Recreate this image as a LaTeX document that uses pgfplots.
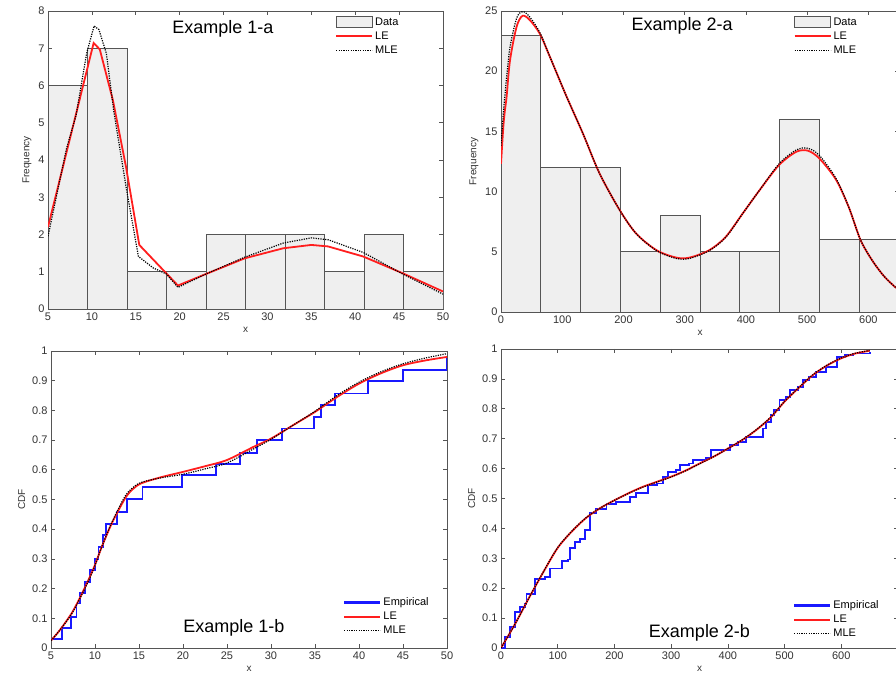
\documentclass[border=0pt]{standalone}
\usepackage{fontspec}
\setmainfont{Liberation Sans}
\usepackage{pgfplots}
\pgfplotsset{compat=1.18}

\definecolor{axgray}{RGB}{85,85,85}
\definecolor{barfill}{RGB}{239,239,239}
\definecolor{lered}{RGB}{255,30,30}
\definecolor{empblue}{RGB}{25,25,255}

\pgfplotsset{
  panel/.style={
    scale only axis,
    axis line style={axgray},
    every tick/.style={axgray, line width=0.6pt},
    major tick length=4pt,
    tick label style={font=\fontsize{11}{12}\selectfont, text=black!80},
    label style={font=\fontsize{10}{11}\selectfont, text=black!80},
    /pgf/number format/assume math mode=true,
    legend cell align=left,
    legend style={draw=none, fill=none, font=\fontsize{11}{12}\selectfont,
      inner sep=0pt, row sep=1pt},
  },
  lineleg/.style={legend image code/.code={\draw[##1] (0pt,0pt) -- (36pt,0pt);}},
  barleg/.style={legend image code/.code={\draw[##1] (0pt,-5.5pt) rectangle (36pt,5.5pt);}},
  leline/.style={lered, line width=1.8pt, lineleg},
  mleline/.style={black, line width=1.2pt, dash pattern=on 1.2pt off 1.2pt, lineleg},
  empline/.style={empblue, line width=1.9pt, const plot, forget plot},
}

\begin{document}
\begin{tikzpicture}
\useasboundingbox (0,0) rectangle (896pt,677pt);
\clip (0,0) rectangle (896pt,677pt);

% ---------- Example 1-a
\begin{axis}[panel, at={(48pt,368pt)}, anchor=south west,
  width=395pt, height=298pt,
  xmin=5, xmax=50, ymin=0, ymax=8,
  xtick={5,10,...,50}, ytick={0,1,...,8},
  xlabel={x}, ylabel={Frequency},
  legend style={at={(0.727,0.985)}, anchor=north west}]
\addplot[ybar interval, fill=barfill, draw=axgray, line width=0.9pt, barleg] coordinates {
  (5,6)(9.5,7)(14,1)(18.5,1)(23,2)(27.5,2)(32,2)(36.5,1)(41,2)(45.5,1)(50,1)};
\addplot[leline] coordinates {
  (5,2.2)(10.2,7.14)(10.9,6.97)(12.4,5.6)(13.9,3.8)(15.4,1.72)(19.8,0.63)
  (23,0.94)(27.4,1.36)(31.8,1.63)(35,1.72)(36.9,1.68)(40.9,1.41)(45.4,0.96)(50,0.47)};
\addplot[mleline] coordinates {
  (5,1.95)(7.1,4.3)(8.2,5.2)(9.4,6.86)(10.25,7.6)(10.8,7.5)(11.65,6.86)(12.5,5.3)
  (13.9,3.27)(15.3,1.41)(17,1.1)(18.5,0.94)(19.8,0.58)(23,0.94)(27.4,1.39)
  (31.8,1.77)(35,1.91)(36.9,1.86)(40.9,1.52)(45.4,0.94)(50,0.40)};
\legend{Data,LE,MLE}
\node[font=\fontsize{18}{20}\selectfont] at (rel axis cs:0.443,0.94) {Example 1-a};
\end{axis}

% ---------- Example 2-a
\begin{axis}[panel, at={(501pt,365pt)}, anchor=south west,
  width=398pt, height=301pt,
  xmin=0, xmax=650, ymin=0, ymax=25,
  xtick={0,100,...,600}, ytick={0,5,...,25},
  xlabel={x}, ylabel={Frequency},
  legend style={at={(0.735,0.985)}, anchor=north west}]
\addplot[ybar interval, fill=barfill, draw=axgray, line width=0.9pt, barleg] coordinates {
  (0,23)(65,12)(130,12)(195,5)(260,8)(325,5)(390,5)(455,16)(520,6)(585,6)(650,6)};
\addplot[leline, smooth] coordinates {
  (0,12.3)(3.8,15.4)(6.5,16.8)(9.2,17.9)(14.7,20.9)(25.5,23.7)(35.3,24.6)(47,24.25)
  (63.5,23.1)(79.8,21.2)(107,17.9)(134,14.8)(161,11.5)(194,8.45)(221,6.5)(254,5.13)
  (286,4.52)(308,4.52)(340,5.13)(367,6.24)(395,8.2)(422,10.1)(454,12.2)(482,13.3)
  (501,13.4)(520,12.75)(547,11.0)(568,8.7)(587,6.0)(606,4.3)(625,3.0)(643,2.1)(650,1.85)};
\addplot[mleline, smooth] coordinates {
  (0,13.8)(3.8,16.5)(9.2,19.5)(14.7,22)(25.5,24.4)(35.3,24.95)(47,24.5)
  (63.5,23.2)(79.8,21.2)(107,17.9)(134,14.8)(161,11.5)(194,8.45)(221,6.5)(254,5.1)
  (286,4.45)(308,4.45)(340,5.1)(367,6.2)(395,8.2)(422,10.1)(454,12.3)(482,13.45)
  (501,13.6)(520,13.0)(547,11.1)(568,8.7)(587,6.0)(606,4.3)(625,3.0)(643,2.1)(650,1.85)};
\legend{Data,LE,MLE}
\node[font=\fontsize{18}{20}\selectfont] at (rel axis cs:0.455,0.95) {Example 2-a};
\end{axis}

% ---------- Example 1-b
\begin{axis}[panel, at={(51pt,29pt)}, anchor=south west,
  width=396pt, height=297pt,
  xmin=5, xmax=50, ymin=0, ymax=1,
  xtick={5,10,...,50}, ytick={0,0.1,0.2,0.3,0.4,0.5,0.6,0.7,0.8,0.9,1},
  xlabel={x}, ylabel={CDF},
  legend style={at={(0.737,0.035)}, anchor=south west}]
\addplot[empline] coordinates {
  (5,0.03)(6.2,0.066)(7.3,0.105)(7.9,0.15)(8.3,0.184)(8.9,0.223)(9.4,0.262)
  (10,0.30)(10.4,0.34)(10.9,0.38)(11.3,0.419)(12.5,0.458)(13.6,0.503)(15.4,0.542)
  (19.9,0.582)(23.7,0.621)(26.5,0.658)(28.4,0.70)(31.2,0.739)(34.9,0.778)(35.7,0.817)
  (37.3,0.857)(41,0.898)(45,0.935)(50,0.975)};
\addplot[leline, smooth] coordinates {
  (5,0.025)(6,0.06)(7.35,0.117)(8.3,0.17)(9.24,0.228)(10,0.28)(10.76,0.34)(11.9,0.419)
  (13.4,0.503)(14.3,0.535)(15.3,0.555)(17.5,0.575)(20,0.593)(22.5,0.612)(25,0.633)
  (28,0.677)(30,0.705)(32.5,0.75)(35,0.795)(37.5,0.845)(40,0.89)(42.5,0.925)
  (45,0.952)(47.5,0.968)(50,0.98)};
\addplot[mleline, smooth] coordinates {
  (5,0.025)(6,0.06)(7.35,0.115)(8.3,0.168)(9.24,0.225)(10,0.278)(10.76,0.34)(11.9,0.422)
  (13.4,0.51)(14.3,0.54)(15.3,0.558)(17.5,0.573)(20,0.585)(22.5,0.603)(25,0.623)
  (28,0.67)(30,0.703)(32.5,0.75)(35,0.797)(37.5,0.85)(40,0.895)(42.5,0.93)
  (45,0.957)(47.5,0.976)(50,0.991)};
\addlegendimage{empblue, line width=2.4pt, lineleg}
\addlegendimage{lered, line width=1.8pt, lineleg}
\addlegendimage{black, line width=1.2pt, dash pattern=on 1.2pt off 1.2pt, lineleg}
\legend{,,Empirical,LE,MLE}
\node[font=\fontsize{18}{20}\selectfont] at (rel axis cs:0.462,0.067) {Example 1-b};
\end{axis}

% ---------- Example 2-b
\begin{axis}[panel, at={(501pt,29pt)}, anchor=south west,
  width=397pt, height=299pt,
  xmin=0, xmax=700, ymin=0, ymax=1,
  xtick={0,100,...,600}, ytick={0,0.1,0.2,0.3,0.4,0.5,0.6,0.7,0.8,0.9,1},
  xlabel={x}, ylabel={CDF},
  legend style={at={(0.735,0.025)}, anchor=south west}]
\addplot[empline] coordinates {
  (0,0)(7,0.037)(15.8,0.07)(24.6,0.12)(33.4,0.137)(42,0.148)(45,0.18)(60,0.23)
  (77,0.238)(86,0.266)(107,0.29)(118,0.296)(122,0.333)(130,0.355)(139,0.366)
  (148,0.394)(157,0.45)(168,0.466)(186,0.483)(203,0.489)(227,0.506)(238,0.517)
  (259,0.545)(275,0.55)(286,0.573)(295,0.589)(309,0.595)(315,0.612)(332,0.617)
  (338,0.628)(362,0.634)(371,0.662)(403,0.679)(418,0.69)(432,0.707)(462,0.734)
  (467,0.757)(476,0.779)(482,0.796)(491,0.829)(503,0.84)(509,0.863)(523,0.874)
  (532,0.896)(543,0.907)(555,0.924)(573,0.941)(593,0.974)(607,0.98)(620,0.985)(651,0.991)};
\addplot[leline, smooth] coordinates {
  (0,0)(25,0.081)(50,0.17)(75,0.255)(100,0.335)(125,0.39)(150,0.435)(175,0.468)
  (200,0.494)(225,0.518)(250,0.539)(275,0.556)(300,0.573)(325,0.593)(350,0.617)
  (375,0.64)(400,0.667)(425,0.695)(450,0.729)(475,0.77)(500,0.824)(525,0.87)
  (550,0.913)(575,0.945)(600,0.969)(625,0.985)(650,0.994)};
\addplot[mleline, smooth] coordinates {
  (0,0)(25,0.081)(50,0.17)(75,0.256)(100,0.336)(125,0.391)(150,0.436)(175,0.468)
  (200,0.494)(225,0.517)(250,0.538)(275,0.555)(300,0.572)(325,0.592)(350,0.616)
  (375,0.64)(400,0.667)(425,0.696)(450,0.73)(475,0.771)(500,0.825)(525,0.871)
  (550,0.914)(575,0.946)(600,0.97)(625,0.986)(650,0.995)};
\addlegendimage{empblue, line width=2.4pt, lineleg}
\addlegendimage{lered, line width=1.8pt, lineleg}
\addlegendimage{black, line width=1.2pt, dash pattern=on 1.2pt off 1.2pt, lineleg}
\legend{,,Empirical,LE,MLE}
\node[font=\fontsize{18}{20}\selectfont] at (rel axis cs:0.50,0.05) {Example 2-b};
\end{axis}
\end{tikzpicture}
\end{document}
